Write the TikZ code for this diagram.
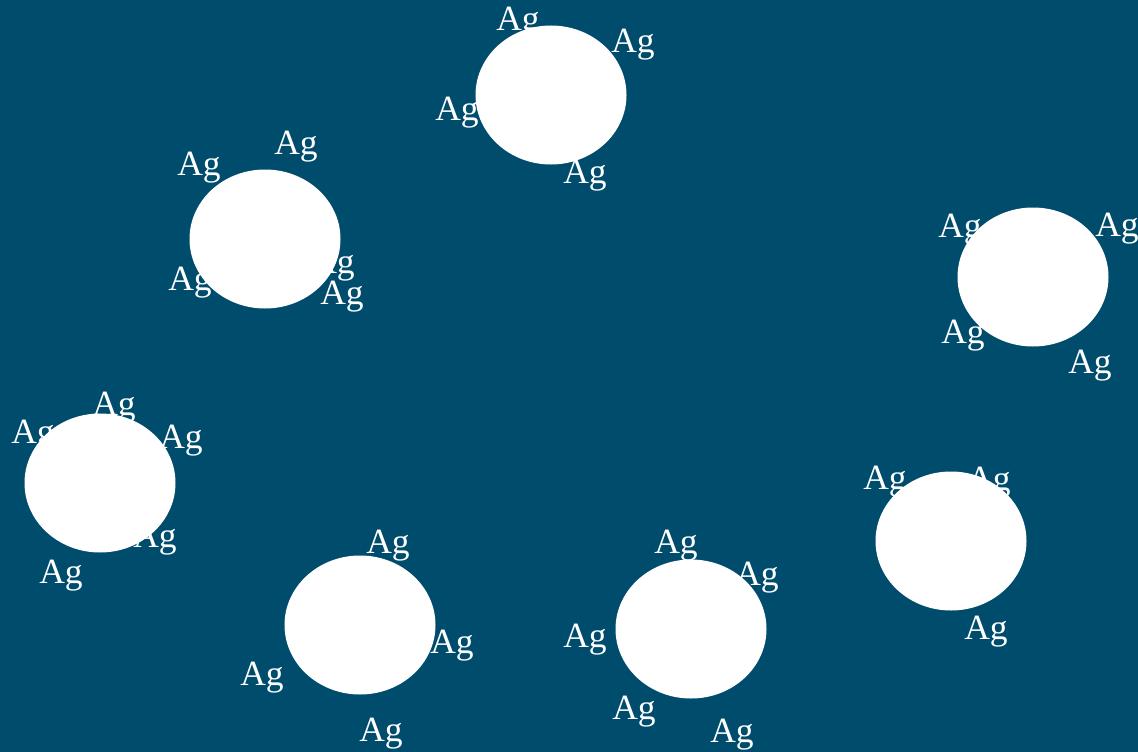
\documentclass[tikz,border=0pt]{standalone}
\usepackage{fontspec}
\setmainfont{Liberation Serif}
\usetikzlibrary{positioning}
\definecolor{bgblue}{RGB}{0,76,109}

\begin{document}
\begin{tikzpicture}[x=1pt,y=-1pt,
    ag/.style={text=white,anchor=base,inner sep=0pt,font=\fontsize{35.5}{42}\selectfont},
    particle/.style={fill=white}]
    \fill [bgblue] (0,0) rectangle (1138,752);
    \useasboundingbox (0,0) rectangle (1138,752);
    % silver labels round each particle
    \node [ag] (L1a) at (518,31) {Ag};
    \node [ag] (L1b) at (633,53) {Ag};
    \node [ag] (L1c) at (457,120) {Ag};
    \node [ag] (L1d) at (585,183) {Ag};
    \node [ag] (L2a) at (199,175) {Ag};
    \node [ag] (L2b) at (296,154) {Ag};
    \node [ag] (L2c) at (190,290) {Ag};
    \node [ag] (L2d) at (333,273) {Ag};
    \node [ag] (L2e) at (342,304) {Ag};
    \node [ag] (L3a) at (960,237) {Ag};
    \node [ag] (L3b) at (1117,236) {Ag};
    \node [ag] (L3c) at (963,343) {Ag};
    \node [ag] (L3d) at (1090,373) {Ag};
    \node [ag] (L4a) at (33,443) {Ag};
    \node [ag] (L4b) at (114,415) {Ag};
    \node [ag] (L4c) at (181,448) {Ag};
    \node [ag] (L4d) at (155,547) {Ag};
    \node [ag] (L4e) at (61,583) {Ag};
    \node [ag] (L5a) at (388,553) {Ag};
    \node [ag] (L5b) at (452,653) {Ag};
    \node [ag] (L5c) at (262,685) {Ag};
    \node [ag] (L5d) at (381,741) {Ag};
    \node [ag] (L6a) at (676,553) {Ag};
    \node [ag] (L6b) at (757,585) {Ag};
    \node [ag] (L6c) at (585,647) {Ag};
    \node [ag] (L6d) at (634,719) {Ag};
    \node [ag] (L6e) at (732,742) {Ag};
    \node [ag] (L7a) at (885,489) {Ag};
    \node [ag] (L7b) at (989,490) {Ag};
    \node [ag] (L7c) at (986,639) {Ag};
    % particles on top
    \coordinate (P1) at (551,95);
    \coordinate (P2) at (265,239);
    \coordinate (P3) at (1033,277);
    \coordinate (P4) at (100,483);
    \coordinate (P5) at (360,625);
    \coordinate (P6) at (691,629);
    \coordinate (P7) at (951,541);
    \foreach \p in {P1,P2,P3,P4,P5,P6,P7}
        \fill [particle] (\p) ellipse [x radius=75.5pt,y radius=69.5pt];
\end{tikzpicture}
\end{document}
